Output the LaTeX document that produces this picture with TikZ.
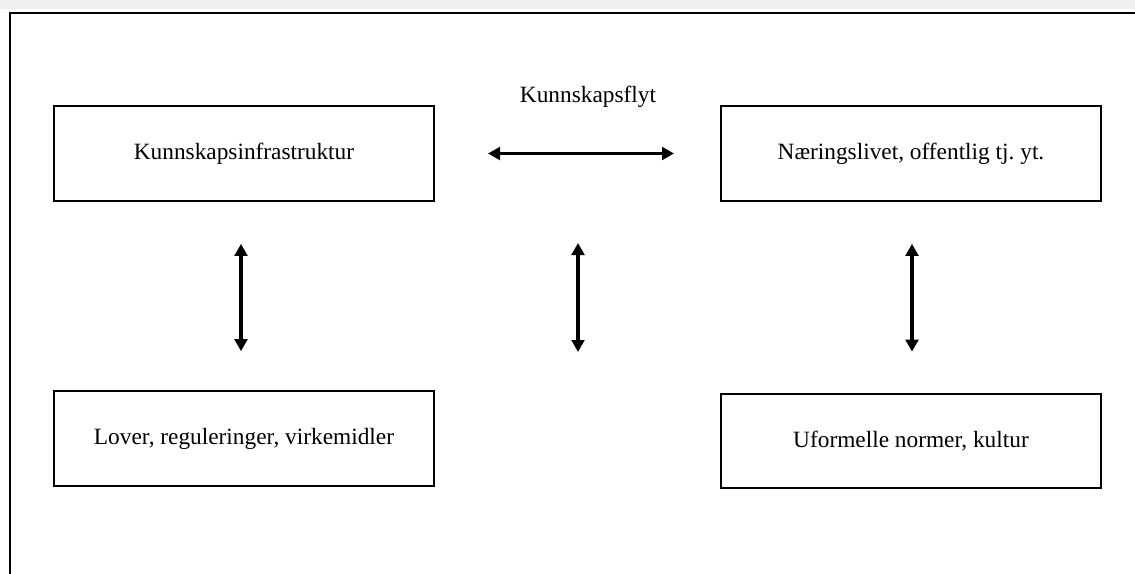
\documentclass[tikz,border=0pt]{standalone}
\usepackage{fontspec}
\setmainfont{Liberation Serif}
\usetikzlibrary{arrows.meta}
\frenchspacing

\tikzset{every picture/.style={line width=0.75pt}}
\tikzset{
  boks/.style={draw, line width=1.5pt, minimum width=285pt, minimum height=71pt, inner sep=0pt, align=center, font=\fontsize{17.5}{21}\selectfont},
  flyt/.style={line width=2.6pt, {Triangle[length=9pt,width=9.5pt]}-{Triangle[length=9pt,width=9.5pt]}}
}

\begin{document}
\begin{tikzpicture}[x=0.75pt,y=0.75pt,yscale=-1,xscale=1]
\useasboundingbox (0,0) rectangle (1135,574);

%Shape: top strip
\fill [gray!12] (0,0) rectangle (1135,9);
%Shape: outer frame (only top and left edge show)
\draw [line width=1.8pt] (10,580) -- (10,13) -- (1140,13);

%Shape: Rectangle [infra]
\node [boks] (infra) at (244,153.5) {Kunnskapsinfrastruktur};
%Shape: Rectangle [naering]
\node [boks] (naering) at (911,153.5) {Næringslivet, offentlig tj. yt.};
%Shape: Rectangle [lover]
\node [boks] (lover) at (244,438.5) {Lover, reguleringer, virkemidler};
%Shape: Rectangle [normer]
\node [boks] (normer) at (911,441) {Uformelle normer, kultur};

%Straight Lines [kunnskapsflyt]
\draw [flyt, shorten <=53pt*0.75, shorten >=46pt*0.75] (infra.east) -- (naering.west);
%Straight Lines [infra - lover]
\draw [flyt, shorten <=42pt*0.75, shorten >=39pt*0.75] ([xshift=-2.25pt]infra.south) -- ([xshift=-2.25pt]lover.north);
%Straight Lines [naering - normer]
\draw [flyt, shorten <=42pt*0.75, shorten >=41pt*0.75] ([xshift=0.75pt]naering.south) -- ([xshift=0.75pt]normer.north);
%Straight Lines [middle]
\coordinate (midtopp) at (578,243);
\coordinate (midbunn) at (578,352);
\draw [flyt] (midtopp) -- (midbunn);

% Text Node
\node [font=\fontsize{17.5}{21}\selectfont] (flytlabel) at (588,97) {Kunnskapsflyt};

\end{tikzpicture}
\end{document}
